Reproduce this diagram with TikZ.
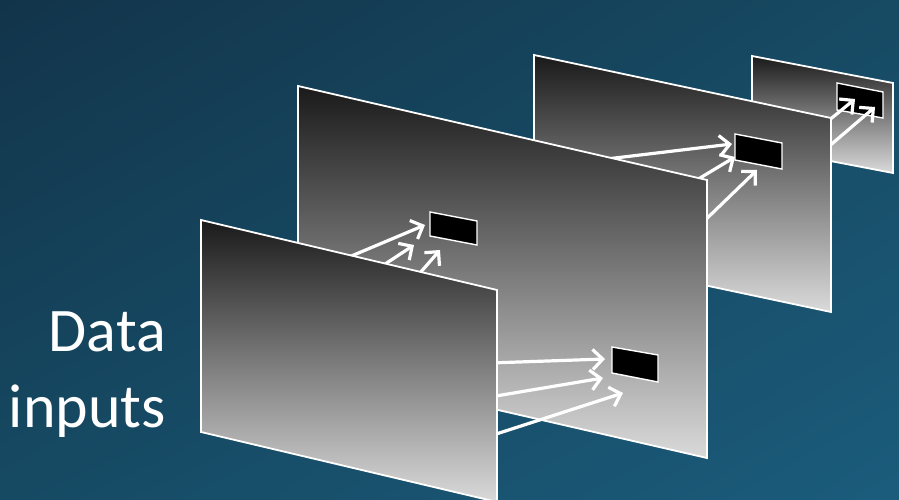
\documentclass[tikz,border=0pt]{standalone}
\usepackage{fontspec}
\setmainfont{Carlito}
\usetikzlibrary{arrows.meta,shadings}

\definecolor{bgul}{RGB}{18,52,74}
\definecolor{bgur}{RGB}{23,74,99}
\definecolor{bgll}{RGB}{22,74,99}
\definecolor{bglr}{RGB}{27,92,124}
\definecolor{laytop}{RGB}{26,26,26}
\definecolor{laybot}{RGB}{218,218,218}

\begin{document}
\begin{tikzpicture}[
  x=1pt, y=-1pt,
  layer/.style={draw=white, line width=1.8pt, top color=laytop, bottom color=laybot},
  win/.style={draw=white, line width=1.4pt, fill=black},
  flow/.style={draw=white, line width=3.2pt, -{Straight Barb[length=10pt, width=20pt]}}
]
\useasboundingbox (0,0) rectangle (899,500);
\shade[upper left=bgul, upper right=bgur, lower left=bgll, lower right=bglr] (0,0) rectangle (899,500);

% layer 4
\shade[layer] (752,56) -- (893,83) -- (893,173) -- (752,146) -- cycle;
\draw[win] (837,83) -- (883,92) -- (883,118) -- (837,110) -- cycle;
\coordinate (d1s) at (822,126); \coordinate (d1e) at (855,99);
\coordinate (d2s) at (820,154); \coordinate (d2e) at (875,107);
\draw[flow] (d1s) -- (d1e);
\draw[flow] (d2s) -- (d2e);

% layer 3
\shade[layer] (534,55) -- (831,118) -- (831,312) -- (534,249) -- cycle;
\draw[win] (735,134) -- (782,143) -- (782,169) -- (735,160) -- cycle;
\coordinate (c1s) at (590,161); \coordinate (c1e) at (732,144);
\coordinate (c2s) at (690,184); \coordinate (c2e) at (735,157);
\coordinate (c3s) at (697,228); \coordinate (c3e) at (757,170);
\draw[flow] (c1s) -- (c1e);
\draw[flow] (c2s) -- (c2e);
\draw[flow] (c3s) -- (c3e);

% layer 2
\shade[layer] (298,86) -- (707,180) -- (707,458) -- (298,364) -- cycle;
\draw[win] (430,212) -- (477,221) -- (477,245) -- (430,236) -- cycle;
\draw[win] (612,347) -- (658,355) -- (658,382) -- (612,373) -- cycle;
\coordinate (a1s) at (330,265); \coordinate (a1e) at (425,225);
\coordinate (a2s) at (370,274); \coordinate (a2e) at (414,245);
\coordinate (a3s) at (413,281); \coordinate (a3e) at (440,250);
\coordinate (b1s) at (490,363); \coordinate (b1e) at (605,359);
\coordinate (b2s) at (490,397); \coordinate (b2e) at (603,378);
\coordinate (b3s) at (490,436); \coordinate (b3e) at (623,393);
\draw[flow] (a1s) -- (a1e);
\draw[flow] (a2s) -- (a2e);
\draw[flow] (a3s) -- (a3e);
\draw[flow] (b1s) -- (b1e);
\draw[flow] (b2s) -- (b2e);
\draw[flow] (b3s) -- (b3e);

% layer 1
\shade[layer] (201,220) -- (497,290) -- (497,502) -- (201,432) -- cycle;

\node[anchor=east, inner sep=0pt, align=right, text=white, font=\fontsize{62}{76}\selectfont] (inputs) at (166,375) {Data\\inputs};
\end{tikzpicture}
\end{document}
